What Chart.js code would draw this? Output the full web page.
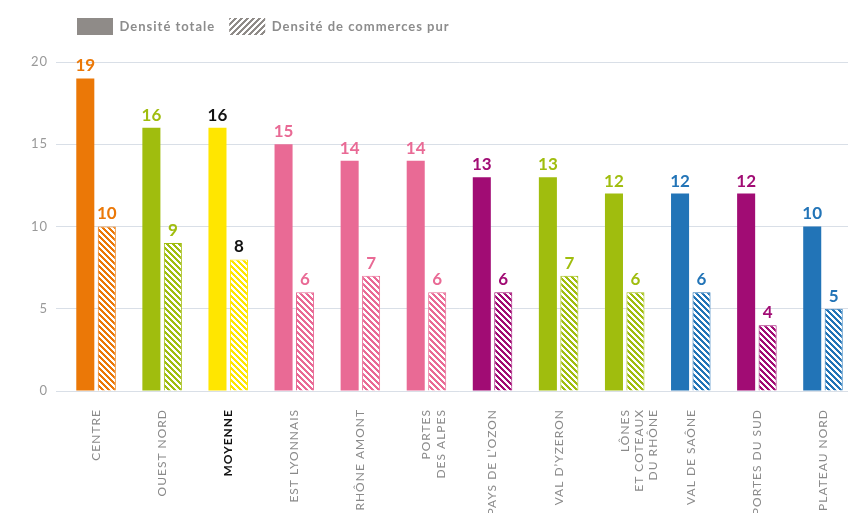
<!DOCTYPE html>
<html><head><meta charset="utf-8">
<script src="https://cdn.jsdelivr.net/npm/chart.js@4.4.1/dist/chart.umd.min.js"></script>
<style>html,body{margin:0;padding:0;background:#fff;overflow:hidden}#wrap{width:856px;height:513px;position:relative}</style>
</head><body><div id="wrap"><canvas id="c"></canvas></div>
<script>
const categories = ['CENTRE','OUEST NORD','MOYENNE','EST LYONNAIS','RHÔNE AMONT',['PORTES','DES ALPES'],'PAYS DE L\u2019OZON','VAL D\u2019YZERON',['LÔNES','ET COTEAUX','DU RHÔNE'],'VAL DE SAÔNE','PORTES DU SUD','PLATEAU NORD'];
const densiteTotale = [19,16,16,15,14,14,13,13,12,12,12,10];
const densiteCommerces = [10,9,8,6,7,6,6,7,6,6,4,5];
const seriesNames = ['Densité totale','Densité de commerces pur'];
const yTicks = [0,5,10,15,20];

const ORANGE='#eb7807', GREEN='#a0bd0e', YELLOW='#ffe600', PINK='#e96a95', PURPLE='#a10c74', BLUE='#2274b7';
const barColors = [ORANGE,GREEN,YELLOW,PINK,PINK,PINK,PURPLE,GREEN,GREEN,BLUE,PURPLE,BLUE];
const FONT='Lato';

function hatch(color, dir){
  const s=6, c=document.createElement('canvas'); c.width=s; c.height=s;
  const x=c.getContext('2d'); x.fillStyle='#fff'; x.fillRect(0,0,s,s); x.fillStyle=color;
  for(let i=0;i<s;i++) for(let j=0;j<s;j++){
    const d = dir>0 ? (((i-j)%s)+s)%s : (i+j)%s;
    if(d<3) x.fillRect(i,j,1,1);
  }
  return x.createPattern(c,'repeat');
}

const spacing = {id:'spacing',
  beforeUpdate(c){c.ctx.letterSpacing='1px';},
  beforeDraw(c){c.ctx.letterSpacing='1px';}
};
const valueLabels = {id:'valueLabels', afterDatasetsDraw(chart){
  const ctx=chart.ctx; ctx.save(); ctx.letterSpacing='0px';
  ctx.font='bold 17px '+FONT; ctx.textAlign='center'; ctx.textBaseline='bottom';
  chart.data.datasets.forEach((ds,di)=>{
    chart.getDatasetMeta(di).data.forEach((el,i)=>{
      ctx.fillStyle = i===2 ? '#111' : barColors[i];
      ctx.fillText(String(ds.data[i]), el.x, el.y-4);
    });
  });
  ctx.restore();
}};

new Chart(document.getElementById('c'), {
  type:'bar',
  data:{ labels: categories, datasets:[
    {label:seriesNames[0], data:densiteTotale, backgroundColor:barColors, borderWidth:0, categoryPercentage:0.65, barPercentage:0.84},
    {label:seriesNames[1], data:densiteCommerces, backgroundColor:barColors.map(c=>hatch(c,1)), borderColor:barColors, borderWidth:1, categoryPercentage:0.65, barPercentage:0.84}
  ]},
  plugins:[spacing, valueLabels],
  options:{
    responsive:true, maintainAspectRatio:false, animation:false, devicePixelRatio:1,
    layout:{padding:{top:4,left:0,right:0,bottom:0}},
    plugins:{
      tooltip:{enabled:false},
      legend:{display:true, position:'top', align:'start', fullSize:false,
        labels:{boxWidth:36, boxHeight:17, padding:14, color:'#8c8c8c', font:{family:FONT,size:13,weight:'bold'},
          generateLabels: chart => seriesNames.map((t,i)=>({text:t, fillStyle: i ? hatch('#8f8b88',-1) : '#8f8b88', strokeStyle:'#8f8b88', lineWidth:0, hidden:false, datasetIndex:i, fontColor:'#8c8c8c'}))
        }
      }
    },
    scales:{
      x:{ grid:{display:false}, border:{display:false},
        ticks:{maxRotation:90, minRotation:90, autoSkip:false, padding:10,
          color: c => c.index===2 ? '#111' : '#8a8a8a',
          font: c => c.index===2 ? {family:FONT,size:12,weight:'bold'} : {family:FONT,size:12}},
        afterFit: s => { s.height = 122; } },
      x2:{ position:'top', display:true, grid:{display:false}, border:{display:false}, ticks:{display:false},
        afterFit: s => { s.height = 17; } },
      y:{ min:0, max:20, z:1,
        afterBuildTicks: s => { s.ticks = yTicks.map(v=>({value:v})); },
        ticks:{stepSize:5, color:'#999', font:{family:FONT,size:13}, padding:8},
        grid:{color:'rgba(160,175,195,0.4)', tickLength:7, lineWidth:1},
        border:{display:false},
        afterFit: s => { s.width = 63; } }
    }
  }
});
</script></body></html>
